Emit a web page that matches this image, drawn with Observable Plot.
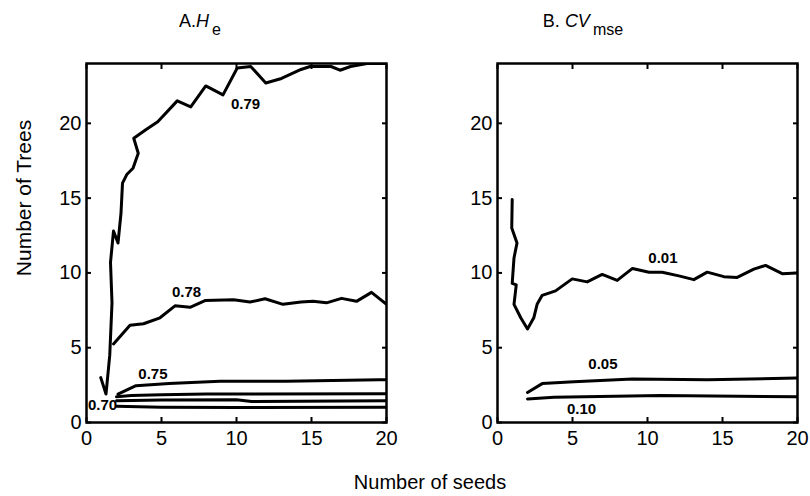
<!DOCTYPE html>
<html>
<head>
<meta charset="utf-8">
<script src="https://cdn.jsdelivr.net/npm/d3@7"></script>
<script src="https://cdn.jsdelivr.net/npm/@observablehq/plot@0.6"></script>
<style>
  body { margin: 0; background: #fff; }
  #chart { position: relative; width: 810px; height: 496px; font-family: "Liberation Sans", Arial, sans-serif; color: #000; }
  #chart svg { position: absolute; top: 0; }
  #xlabel { position: absolute; left: 280px; width: 300px; top: 470px; text-align: center; font-size: 20px; line-height: 24px; }
</style>
</head>
<body>
<div id="chart"><div id="xlabel">Number of seeds</div></div>
<script>
// ---- Data ----
const xTicks = [0, 5, 10, 15, 20];
const yTicks = [0, 5, 10, 15, 20];

// Panel A: H_e
const he079 = [[0.95,3.0],[1.3,1.9],[1.55,4.5],[1.7,8.0],[1.6,10.7],[1.8,12.8],[2.1,12.0],[2.3,14.0],[2.4,16.0],[2.7,16.6],[3.1,17.0],[3.45,18.0],[3.15,19.0],[4.0,19.6],[4.75,20.1],[6.05,21.5],[6.95,21.1],[7.95,22.5],[9.1,21.9],[10.05,23.7],[10.95,23.8],[11.95,22.7],[13.0,23.0],[14.3,23.6],[14.9,23.8],[16.3,23.8],[16.9,23.55],[17.6,23.8],[18.7,24.0],[20,24.0]];
const he078 = [[1.8,5.25],[2.9,6.5],[3.8,6.6],[4.9,7.0],[5.9,7.8],[6.9,7.7],[7.9,8.15],[9.8,8.2],[10.9,8.05],[11.9,8.27],[13.1,7.9],[14.3,8.05],[15.1,8.1],[16.0,8.0],[17.0,8.3],[18.0,8.1],[19.0,8.7],[20,7.9]];
const he075 = [[2.1,1.9],[3.3,2.46],[5.5,2.6],[8.9,2.75],[13.3,2.75],[19.5,2.85],[20,2.85]];
const heA = [[2.0,1.72],[3.0,1.8],[5.0,1.85],[8.0,1.9],[20,1.92]];
const heB = [[2.0,1.45],[5.0,1.5],[10.0,1.52],[11.0,1.4],[20,1.45]];
const he070 = [[2.0,1.08],[5.0,1.02],[10.0,1.0],[20,1.02]];
const heLabels = [{x:10.6,y:21.3,t:"0.79"},{x:6.67,y:8.72,t:"0.78"},{x:4.43,y:3.23,t:"0.75"},{x:1.07,y:1.19,t:"0.70"}];

// Panel B: CV_mse
const cv001 = [[0.98,14.9],[0.95,13.0],[1.3,12.0],[1.1,11.0],[0.98,9.3],[1.25,9.2],[1.1,7.9],[1.55,7.0],[2.0,6.25],[2.42,7.0],[2.64,7.9],[2.98,8.5],[3.87,8.8],[4.98,9.6],[5.98,9.4],[6.98,9.9],[7.98,9.5],[9.0,10.3],[10.1,10.05],[10.98,10.05],[12.09,9.8],[13.09,9.55],[13.98,10.05],[15.09,9.75],[15.98,9.7],[17.09,10.25],[17.87,10.5],[18.98,9.95],[20,10.0]];
const cv005 = [[2.0,2.0],[2.98,2.6],[5.09,2.72],[9.0,2.9],[14.0,2.85],[20,2.97]];
const cv010 = [[2.0,1.57],[3.76,1.68],[10.87,1.8],[20,1.72]];
const cvLabels = [{x:11.03,y:11.0,t:"0.01"},{x:7.03,y:3.87,t:"0.05"},{x:5.6,y:0.88,t:"0.10"}];

const FONT = '"Liberation Sans", Arial, sans-serif';

function toRows(named) {
  return named.flatMap(([name, pts]) => pts.map(([x, y]) => ({name, x, y})));
}

function panel(rows, labels, marginLeft, marginRight) {
  return Plot.plot({
    width: 405, height: 460,
    marginTop: 63, marginBottom: 38, marginLeft, marginRight,
    x: {domain: [0, 20], label: null},
    y: {domain: [0, 24], label: null},
    style: {fontFamily: FONT, fontSize: "20px", background: "white", color: "black", overflow: "visible"},
    marks: [
      Plot.line(rows, {x: "x", y: "y", z: "name", stroke: "black", strokeWidth: 3, strokeLinejoin: "round", clip: true}),
      Plot.text(labels, {x: "x", y: "y", text: "t", fontWeight: "bold", fontSize: 15, fill: "black"}),
      Plot.frame({stroke: "black", strokeWidth: 2.5}),
      Plot.axisX({ticks: xTicks, tickSize: -5, tickPadding: 13, strokeWidth: 2, label: null, fontSize: 20}),
      Plot.axisX({anchor: "top", ticks: xTicks, tickSize: -5, strokeWidth: 2, tickFormat: () => "", label: null}),
      Plot.axisY({ticks: yTicks, tickSize: -5, tickPadding: 10, strokeWidth: 2, label: null, fontSize: 20}),
      Plot.axisY({anchor: "right", ticks: yTicks, tickSize: -5, strokeWidth: 2, tickFormat: () => "", label: null})
    ]
  });
}

const chart = document.getElementById("chart");

const rowsA = toRows([["0.79", he079], ["0.78", he078], ["0.75", he075], ["a", heA], ["b", heB], ["0.70", he070]]);
const svgA = panel(rowsA, heLabels, 86, 19);
svgA.style.left = "0px";
chart.appendChild(svgA);

const rowsB = toRows([["0.01", cv001], ["0.05", cv005], ["0.10", cv010]]);
const svgB = panel(rowsB, cvLabels, 92, 13);
svgB.style.left = "405px";
chart.appendChild(svgB);

// Titles with subscripts
function title(svg, x, main, italic, sub) {
  const t = d3.select(svg).append("text")
    .attr("x", x).attr("y", 27)
    .attr("font-family", FONT).attr("font-size", 18).attr("fill", "black");
  t.append("tspan").text(main);
  t.append("tspan").attr("font-style", "italic").text(italic);
  t.append("tspan").attr("dy", 8).attr("dx", 3).attr("font-size", 16).text(sub);
}
title(svgA, 200, "A.", "H", "e");
title(svgB, 178, "B. ", "CV", "mse");

// Y-axis label
d3.select(svgA).append("text")
  .attr("transform", "translate(31,198) rotate(-90)")
  .attr("text-anchor", "middle")
  .attr("font-family", FONT).attr("font-size", 21).attr("fill", "black")
  .text("Number of Trees");
</script>
</body>
</html>
